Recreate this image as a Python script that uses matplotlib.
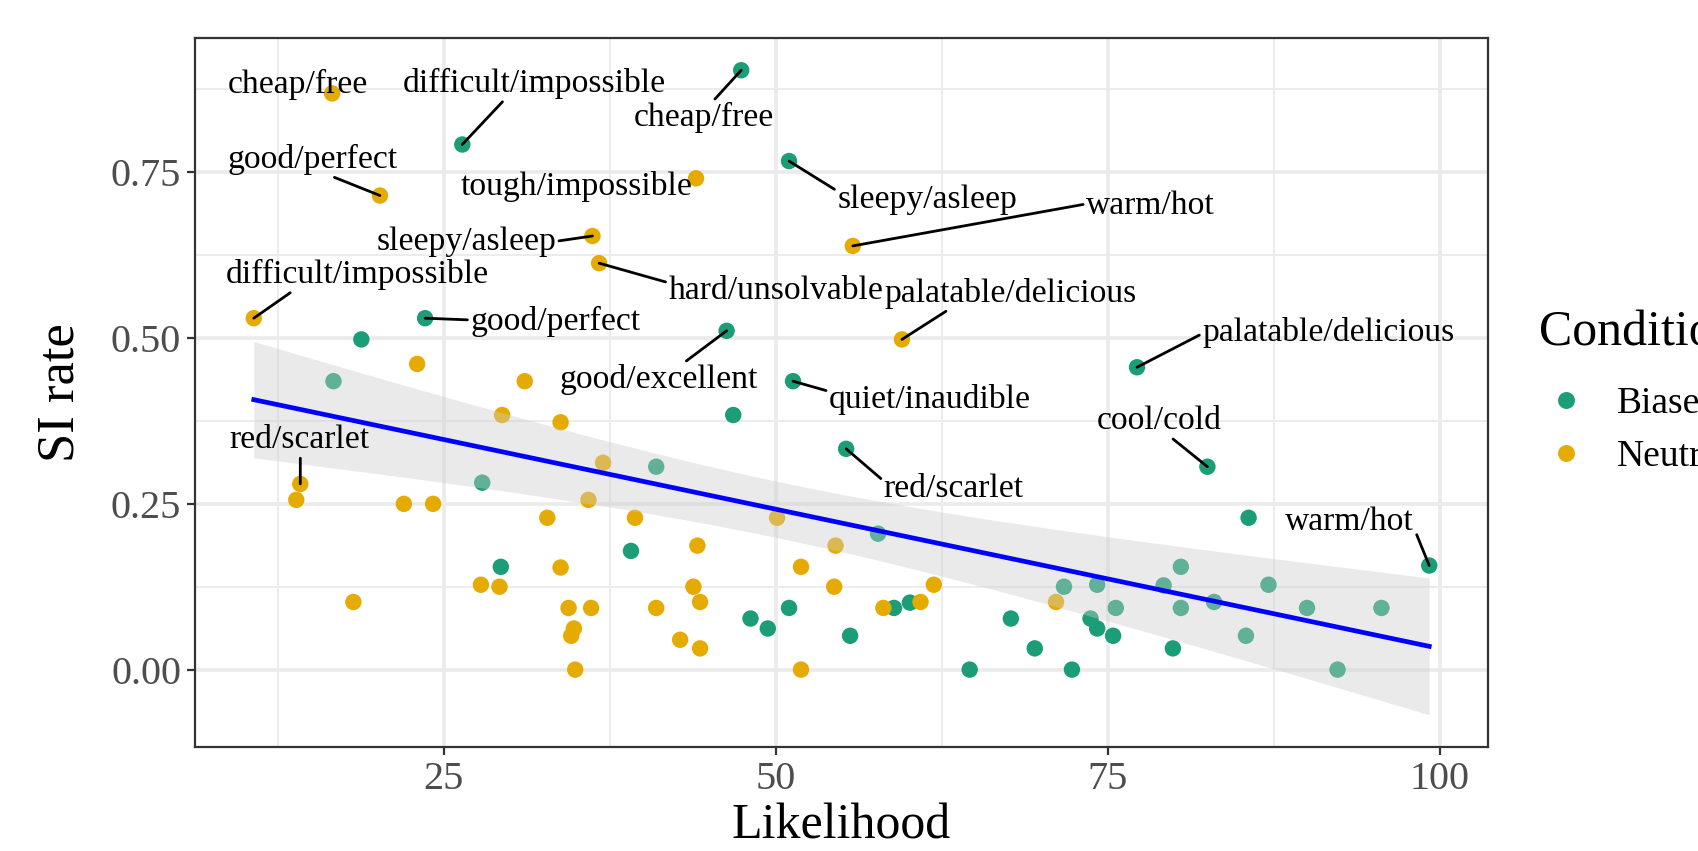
import numpy as np
import matplotlib
matplotlib.use('Agg')
import matplotlib.pyplot as plt
from matplotlib.lines import Line2D

plt.rcParams['font.family'] = ['Liberation Serif', 'DejaVu Serif']

# biased condition
biased_x = [47.4, 26.4, 51.0, 23.6, 18.8, 46.3, 51.3, 46.8, 55.3, 77.2, 82.5, 85.6, 99.2,
            29.3, 39.1, 48.1, 49.4, 51.0, 55.6, 58.9, 60.1, 64.6, 67.7, 69.5, 72.3, 74.2,
            75.4, 79.9,
            16.7, 27.9, 41.0, 57.7, 71.7, 74.2, 75.6, 73.7, 79.2, 80.5, 80.5, 83.0, 85.4,
            87.1, 90.0, 92.3, 95.6]
biased_y = [0.904, 0.792, 0.767, 0.530, 0.498, 0.511, 0.435, 0.384, 0.333, 0.456, 0.306, 0.229, 0.157,
            0.155, 0.179, 0.077, 0.062, 0.093, 0.051, 0.093, 0.101, 0.0, 0.077, 0.032, 0.0, 0.062,
            0.051, 0.032,
            0.435, 0.282, 0.306, 0.205, 0.125, 0.128, 0.093, 0.077, 0.127, 0.155, 0.093, 0.102, 0.051,
            0.128, 0.093, 0.0, 0.093]
biased_word = ['cheap/free', 'difficult/impossible', 'sleepy/asleep', 'good/perfect', '',
               'good/excellent', 'quiet/inaudible', '', 'red/scarlet', 'palatable/delicious',
               'cool/cold', '', 'warm/hot'] + [''] * 32

# neutral condition
neutral_x = [16.6, 20.2, 44.0, 36.2, 36.7, 55.8, 10.7, 59.5, 14.2,
             23.0, 31.1, 33.8, 13.9, 22.0, 24.2, 32.8, 39.4, 44.1, 33.8, 27.8, 29.2, 18.2,
             43.8, 44.3, 34.4, 36.1, 41.0, 34.8, 34.6, 42.8, 44.3, 34.9, 51.9, 54.4, 61.9,
             58.1, 60.9, 51.9,
             29.4, 37.0, 35.9, 50.1, 54.5, 71.1]
neutral_y = [0.869, 0.715, 0.741, 0.654, 0.613, 0.639, 0.530, 0.498, 0.280,
             0.461, 0.435, 0.373, 0.256, 0.250, 0.250, 0.229, 0.229, 0.187, 0.154, 0.128, 0.125, 0.102,
             0.125, 0.102, 0.093, 0.093, 0.093, 0.062, 0.051, 0.045, 0.032, 0.0, 0.155, 0.125, 0.128,
             0.093, 0.102, 0.0,
             0.384, 0.312, 0.256, 0.229, 0.187, 0.102]
neutral_word = ['cheap/free', 'good/perfect', 'tough/impossible', 'sleepy/asleep', 'hard/unsolvable',
                'warm/hot', 'difficult/impossible', 'palatable/delicious', 'red/scarlet'] + [''] * 35

conditions = ['Biased', 'Neutral']

# where the repelled labels ended up: text centre (data units) and where the
# segment meets the text box (fraction of box), None = no segment
biased_lab = {'cheap/free': (44.6, 0.833, (0.56, 1.0)),
              'difficult/impossible': (31.8, 0.884, (0.39, 0.0)),
              'sleepy/asleep': (61.4, 0.708, (0.0, 0.8)),
              'good/perfect': (33.4, 0.525, (0.0, 0.55)),
              'good/excellent': (41.2, 0.438, (0.62, 1.0)),
              'quiet/inaudible': (61.6, 0.408, (0.0, 0.75)),
              'red/scarlet': (63.4, 0.273, (0.0, 0.75)),
              'palatable/delicious': (91.6, 0.509, (0.0, 0.45)),
              'cool/cold': (78.9, 0.375, (0.58, 0.0)),
              'warm/hot': (93.2, 0.223, (1.0, 0.3))}
neutral_lab = {'cheap/free': (14.0, 0.883, None),
               'good/perfect': (15.1, 0.770, (0.59, 0.0)),
               'tough/impossible': (35.0, 0.729, None),
               'sleepy/asleep': (26.7, 0.646, (1.0, 0.5)),
               'hard/unsolvable': (50.0, 0.572, (0.0, 0.75)),
               'warm/hot': (78.2, 0.700, (0.0, 0.55)),
               'difficult/impossible': (18.5, 0.596, (0.26, 0.0)),
               'palatable/delicious': (67.7, 0.568, (0.26, 0.0)),
               'red/scarlet': (14.1, 0.346, (0.51, 0.0))}

BIASED_COL = '#1B9E77'
NEUTRAL_COL = '#E6AB02'

# linear fit with 95% band over all points
allx = np.array(biased_x + neutral_x)
ally = np.array(biased_y + neutral_y)
n = len(allx)
slope, icept = np.polyfit(allx, ally, 1)
resid = ally - (icept + slope * allx)
s = np.sqrt(np.sum(resid ** 2) / (n - 2))
xbar = allx.mean()
sxx = np.sum((allx - xbar) ** 2)
T975 = 1.986
xs = np.linspace(allx.min(), allx.max(), 80)
ys = icept + slope * xs
se = s * np.sqrt(1 / n + (xs - xbar) ** 2 / sxx)
lo = ys - T975 * se
hi = ys + T975 * se

fig = plt.figure(figsize=(16.98, 8.51), dpi=100)
ax = fig.add_axes([195 / 1698, 1 - 747 / 851, (1488 - 195) / 1698, (747 - 38) / 851])

ax.scatter(biased_x, biased_y, s=140, color=BIASED_COL, edgecolors='none', zorder=2)
ax.scatter(neutral_x, neutral_y, s=140, color=NEUTRAL_COL, edgecolors='none', zorder=2)
ax.fill_between(xs, lo, hi, color='#CCCCCC', alpha=0.4, linewidth=0, zorder=3)
ax.plot(xs, ys, color='blue', lw=3.4, zorder=4)

for xv, yv, words, lab in [(biased_x, biased_y, biased_word, biased_lab),
                           (neutral_x, neutral_y, neutral_word, neutral_lab)]:
    for px, py, w in zip(xv, yv, words):
        if not w:
            continue
        tx, ty, rel = lab[w]
        props = None
        if rel is not None:
            props = dict(arrowstyle='-', color='black', lw=2, shrinkA=0, shrinkB=0, relpos=rel)
        ax.annotate(w, xy=(px, py), xytext=(tx, ty), textcoords='data', ha='center', va='center',
                    fontsize=24.2, color='black', arrowprops=props, zorder=5)

# ggplot style expansion
xr = allx.max() - allx.min()
ylo = min(ally.min(), lo.min())
yhi = max(ally.max(), hi.max())
yr = yhi - ylo
ax.set_xlim(allx.min() - 0.05 * xr, allx.max() + 0.05 * xr)
ax.set_ylim(ylo - 0.05 * yr, yhi + 0.05 * yr)

ax.set_xticks([25, 50, 75, 100])
ax.set_yticks([0.0, 0.25, 0.5, 0.75])
ax.set_yticklabels(['0.00', '0.25', '0.50', '0.75'])
ax.set_xticks([12.5, 37.5, 62.5, 87.5], minor=True)
ax.set_yticks([0.125, 0.375, 0.625, 0.875], minor=True)
ax.grid(which='major', color='#EBEBEB', lw=2.6)
ax.grid(which='minor', color='#EBEBEB', lw=1.3)
ax.set_axisbelow(True)
ax.tick_params(which='major', length=6, width=1.6, color='#333333', labelsize=29,
               labelcolor='#4D4D4D', pad=4)
ax.tick_params(which='minor', length=0)
for sp in ax.spines.values():
    sp.set_color('#333333')
    sp.set_linewidth(1.6)

ax.set_xlabel('Likelihood', fontsize=36, labelpad=4)
ax.set_ylabel('SI rate', fontsize=38)
ax.yaxis.set_label_coords((84 - 195) / 1293, 0.5)

# legend drawn by hand (runs off the right edge, as in the original)
fig.text(1539 / 1698, 1 - 345 / 851, 'Condition', fontsize=36, va='baseline', ha='left')
for i, (name, col) in enumerate(zip(conditions, [BIASED_COL, NEUTRAL_COL])):
    yc = 400 + 53 * i
    fig.add_artist(Line2D([1566 / 1698], [1 - yc / 851], marker='o', markersize=12.2,
                          color=col, markeredgewidth=0, linestyle='none',
                          transform=fig.transFigure))
    fig.text(1617 / 1698, 1 - (yc + 13) / 851, name, fontsize=27, va='baseline', ha='left')

fig.savefig('out.png', dpi=100)
